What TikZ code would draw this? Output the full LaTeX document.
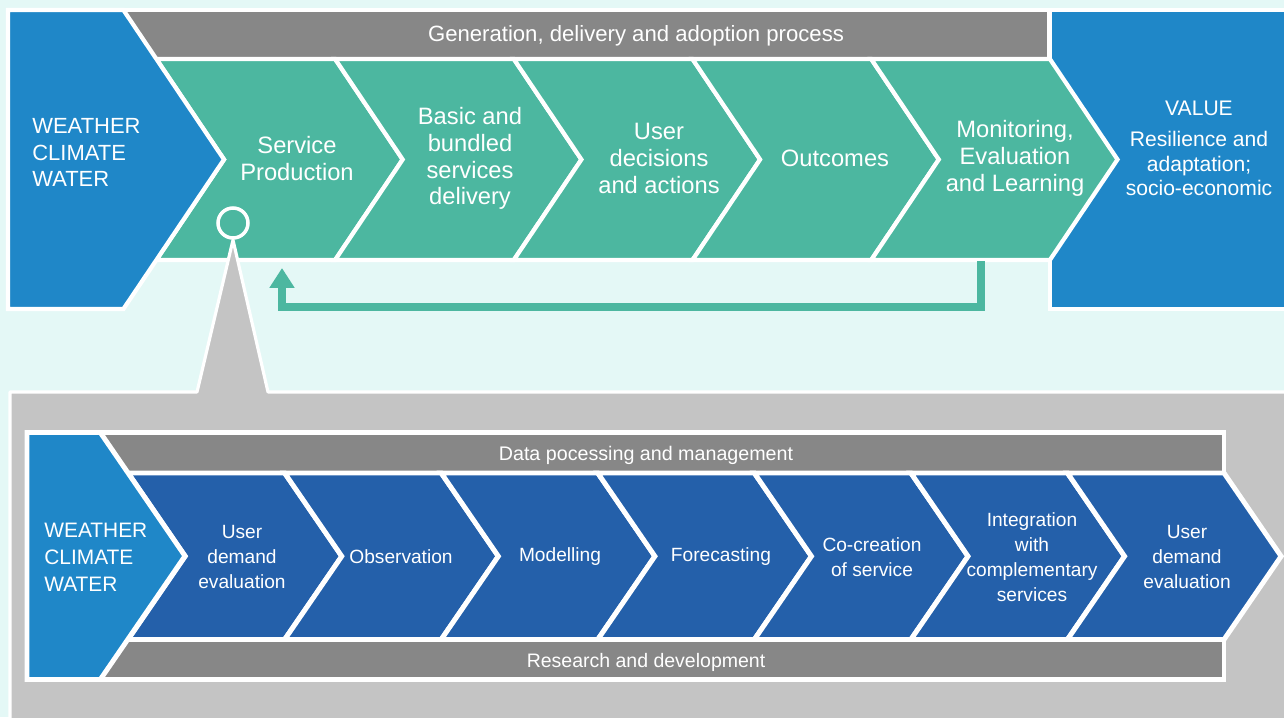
\documentclass[tikz,border=0pt]{standalone}
\usepackage{fontspec}
\setmainfont{Liberation Sans}
\usetikzlibrary{arrows.meta}
\definecolor{bgcyan}{HTML}{E4F8F6}
\definecolor{wmoblue}{HTML}{1F87C8}
\definecolor{chevgreen}{HTML}{4CB7A0}
\definecolor{bargray}{HTML}{878787}
\definecolor{panelgray}{HTML}{C4C4C4}
\definecolor{chevblue}{HTML}{2460AA}

\begin{document}
\begin{tikzpicture}[x=0.02cm, y=-0.02cm,
  sep/.style={draw=white, line width=2.4pt},
  bar/.style={sep, fill=bargray},
  greenchev/.style={sep, fill=chevgreen},
  bluechev/.style={sep, fill=chevblue, line width=2.8pt},
  bigtxt/.style={text=white, align=center, font=\fontsize{13.5}{15.3}\selectfont},
  bartxt/.style={text=white, font=\fontsize{12.6}{15}\selectfont},
  smalltxt/.style={text=white, align=center, font=\fontsize{10.9}{14.1}\selectfont},
  fback/.style={draw=chevgreen, line width=5.1pt, line join=miter,
                -{Triangle[width=13.6pt,length=11.3pt]}},
  ]
  \useasboundingbox (0,0) rectangle (1284,717);
  \fill[bgcyan] (0,0) rectangle (1284,717);

  % generation, delivery and adoption
  \path[bar] (100,10) rectangle (1049.5,59);
  \node[bartxt] (genbar) at (636,36) {Generation, delivery and adoption process};
  \path[sep, fill=wmoblue] (1050,10) rectangle (1300,309);
  \foreach \nm/\cx/\lbl [count=\i from 0] in {sp/297/{Service\\Production},
      bbsd/470/{Basic and\\bundled\\services\\delivery}, udec/659/{User\\decisions\\and actions},
      outc/835/{Outcomes}, mel/1015/{Monitoring,\\Evaluation\\and Learning}} {
    \pgfmathsetmacro\xa{156.4+178.7*\i}
    \path[greenchev] (\xa,59) -- ++(178.7,0) -- ++(67.6,100.5) -- ++(-67.6,100.5)
      -- ++(-178.7,0) -- ++(67.6,-100.5) -- cycle;
    \node[bigtxt] (\nm) at (\cx,158.5) {\lbl};
  }
  \path[sep, fill=wmoblue] (8,10) -- (123.4,10) -- (224,159.5) -- (123.4,309)
    -- (8,309) -- cycle;
  \node[bigtxt, align=left, anchor=west, inner sep=0,
        font=\fontsize{12.5}{15}\selectfont] (wcw) at (32,152.5) {WEATHER\\CLIMATE\\WATER};
  \node[text=white, align=center, font=\fontsize{12}{13.9}\selectfont] (value)
    at (1199,148.5) {VALUE\\[4pt]Resilience and\\adaptation;\\socio-economic};

  % feedback loop
  \coordinate (fbs) at (981,261);
  \coordinate (fbe) at (282,268);
  \draw[fback] (fbs) -- ++(0,46) -| (fbe);

  % zoom on service production
  \path[sep, fill=panelgray, line width=1.8pt, line join=round] (10,392) -- (197,392)
    -- (233,240) -- (268,392) -- (1300,392) -- (1300,730) -- (10,730) -- cycle;
  \node[circle, draw=white, line width=2pt, minimum size=0.6cm, inner sep=0]
    (zoom) at (233,223) {};

  % service production chain
  \path[bar, line width=2.8pt] (60,432.5) rectangle (1224,473);
  \node[smalltxt, font=\fontsize{11.2}{14}\selectfont] (databar) at (646,455)
    {Data pocessing and management};
  \path[bar, line width=2.8pt] (60,639.5) rectangle (1224,679.5);
  \node[smalltxt, font=\fontsize{11.1}{14}\selectfont] (rdbar) at (646,662)
    {Research and development};
  \foreach \nm/\cx/\lbl [count=\i from 0] in {ude/242/{User\\demand\\evaluation},
      obs/401/{Observation}, mod/560/{Modelling}, fcst/721/{Forecasting},
      cocr/872/{Co-creation\\of service}, integ/1032/{Integration\\with\\complementary\\services},
      udeb/1187/{User\\demand\\evaluation}} {
    \pgfmathsetmacro\xa{128.1+156.56*\i}
    \path[bluechev] (\xa,473) -- ++(156.56,0) -- ++(57.1,83.25) -- ++(-57.1,83.25)
      -- ++(-156.56,0) -- ++(57.1,-83.25) -- cycle;
    \node[smalltxt] (\nm) at (\cx,557) {\lbl};
  }
  \path[sep, fill=wmoblue, line width=2.8pt] (27,432.5) -- (100.3,432.5) -- (185,556)
    -- (100.3,679.5) -- (27,679.5) -- cycle;
  \node[bigtxt, align=left, anchor=west, inner sep=0,
        font=\fontsize{11.9}{15.3}\selectfont] (wcwl) at (44,557.5) {WEATHER\\CLIMATE\\WATER};
\end{tikzpicture}
\end{document}
